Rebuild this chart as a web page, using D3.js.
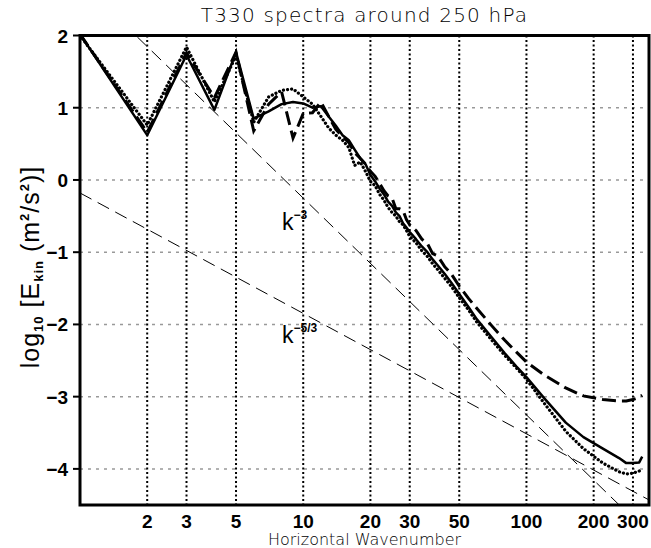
<!DOCTYPE html>
<html>
<head>
<meta charset="utf-8">
<script src="https://cdn.jsdelivr.net/npm/d3@7"></script>
<style>
  body { margin: 0; background: #fff; }
  svg { display: block; }
</style>
</head>
<body>
<div id="chart"></div>
<script>
// T330 kinetic energy spectra around 250 hPa

var waveNumbers = [1,2,3,4,5,6,7,8,9,10,11,12,13,14,15,16,17,18,19,20,
  21,22,23,24,25,26,27,28,29,30,32,34,36,38,40,43,46,50,55,60,
  70,80,90,100,120,150,180,220,260,280,300,320,330];

var solidVals = [2.02,0.62,1.73,0.97,1.77,0.85,0.95,1.05,1.08,1.06,1.0,1.02,0.88,0.75,0.62,0.55,0.42,0.30,0.22,0.07,
  -0.02,-0.12,-0.20,-0.30,-0.36,-0.45,-0.50,-0.60,-0.66,-0.72,-0.82,-0.92,-1.00,-1.10,-1.18,-1.30,-1.42,-1.58,-1.76,-1.93,
  -2.18,-2.40,-2.58,-2.73,-3.02,-3.36,-3.56,-3.72,-3.85,-3.92,-3.92,-3.91,-3.83];

var dottedVals = [2.00,0.76,1.84,1.08,1.72,0.80,1.15,1.24,1.26,1.15,1.05,0.88,0.72,0.62,0.55,0.45,0.20,0.25,0.12,-0.02,
  -0.08,-0.20,-0.28,-0.38,-0.45,-0.50,-0.58,-0.62,-0.70,-0.78,-0.87,-0.98,-1.06,-1.16,-1.24,-1.36,-1.47,-1.63,-1.80,-1.97,
  -2.22,-2.43,-2.60,-2.76,-3.09,-3.48,-3.72,-3.92,-4.04,-4.07,-4.06,-4.03,-4.00];

var dashedVals = [2.02,0.66,1.76,1.14,1.77,0.68,1.05,1.22,0.58,0.92,0.93,1.08,0.88,0.70,0.60,0.52,0.38,0.30,0.22,0.12,
  0.05,-0.05,-0.15,-0.22,-0.25,-0.40,-0.40,-0.42,-0.55,-0.62,-0.70,-0.82,-0.88,-1.02,-1.05,-1.20,-1.30,-1.47,-1.64,-1.78,
  -2.02,-2.22,-2.38,-2.52,-2.70,-2.88,-2.99,-3.04,-3.06,-3.06,-3.04,-3.01,-2.98];

// reference slopes, end points
var refK = [1, 354];
var refSteep = [2.75, -4.90];     // k^-3
var refShallow = [-0.18, -4.43];  // k^-5/3

var xTicks = [2,3,5,10,20,30,50,100,200,300];
var yTicks = [2,1,0,-1,-2,-3,-4];

var W = 651, H = 548;
var pLeft = 80, pRight = 649, pTop = 35.5, pBottom = 505;

var svg = d3.select("#chart").append("svg")
    .attr("width", W)
    .attr("height", H);

var x = d3.scaleLog().domain([1, 354]).range([pLeft, pRight]);
var y = d3.scaleLinear().domain([-4.5, 2]).range([pBottom, pTop]);

svg.append("clipPath").attr("id", "plotclip")
  .append("rect")
    .attr("x", pLeft).attr("y", pTop)
    .attr("width", pRight - pLeft).attr("height", pBottom - pTop);

// grid
svg.append("g").selectAll("line")
    .data(yTicks)
  .enter().append("line")
    .attr("x1", pLeft).attr("x2", pRight)
    .attr("y1", d => y(d)).attr("y2", d => y(d))
    .style("stroke", "#999")
    .style("stroke-width", 1.5)
    .style("stroke-dasharray", "3,5");

svg.append("g").selectAll("line")
    .data(xTicks)
  .enter().append("line")
    .attr("x1", d => x(d)).attr("x2", d => x(d))
    .attr("y1", pTop).attr("y2", pBottom)
    .style("stroke", "#000")
    .style("stroke-width", 2)
    .style("stroke-dasharray", "2,2.5");

var plot = svg.append("g").attr("clip-path", "url(#plotclip)");

// reference lines
[refSteep, refShallow].forEach(function(r){
  plot.append("line")
    .attr("x1", x(refK[0])).attr("y1", y(r[0]))
    .attr("x2", x(refK[1])).attr("y2", y(r[1]))
    .style("stroke", "#000")
    .style("stroke-width", 1)
    .style("stroke-dasharray", "13,7");
});

var line = d3.line()
    .x(d => x(d[0]))
    .y(d => y(d[1]));

function pairs(vals){
  return waveNumbers.map((k, i) => [k, vals[i]]);
}

plot.append("path")
    .attr("d", line(pairs(dashedVals)))
    .style("fill", "none")
    .style("stroke", "#000")
    .style("stroke-width", 3)
    .style("stroke-dasharray", "14,6");

plot.append("path")
    .attr("d", line(pairs(dottedVals)))
    .style("fill", "none")
    .style("stroke", "#000")
    .style("stroke-width", 3.2)
    .style("stroke-linecap", "round")
    .style("stroke-dasharray", "0.1,4");

plot.append("path")
    .attr("d", line(pairs(solidVals)))
    .style("fill", "none")
    .style("stroke", "#000")
    .style("stroke-width", 2.5)
    .style("stroke-linejoin", "round");

// frame
svg.append("rect")
    .attr("x", pLeft).attr("y", pTop)
    .attr("width", pRight - pLeft).attr("height", pBottom - pTop)
    .style("fill", "none")
    .style("stroke", "#000")
    .style("stroke-width", 3);

// y ticks + labels
var yax = svg.append("g");
yax.selectAll("line")
    .data(yTicks)
  .enter().append("line")
    .attr("x1", pLeft - 7).attr("x2", pLeft)
    .attr("y1", d => y(d)).attr("y2", d => y(d))
    .style("stroke", "#000")
    .style("stroke-width", 2);

yax.selectAll("text")
    .data(yTicks)
  .enter().append("text")
    .attr("x", pLeft - 12)
    .attr("y", d => y(d) + 7)
    .attr("text-anchor", "end")
    .style("font-family", "'Liberation Sans', Arial, sans-serif")
    .style("font-weight", "bold")
    .style("font-size", "19px")
    .text(d => d < 0 ? "\u2212" + Math.abs(d) : d);

// x tick labels
svg.append("g").selectAll("text")
    .data(xTicks)
  .enter().append("text")
    .attr("x", d => x(d))
    .attr("y", 528)
    .attr("text-anchor", "middle")
    .style("font-family", "'Liberation Sans', Arial, sans-serif")
    .style("font-weight", "bold")
    .style("font-size", "19px")
    .text(d => d);

// titles
svg.append("text")
    .attr("x", (pLeft + pRight) / 2)
    .attr("y", 22)
    .attr("text-anchor", "middle")
    .style("font-family", "'DejaVu Sans', sans-serif")
    .style("font-weight", 200)
    .style("font-size", "20px")
    .style("letter-spacing", "1.2px")
    .text("T330 spectra around 250 hPa");

svg.append("text")
    .attr("x", (pLeft + pRight) / 2)
    .attr("y", 545)
    .attr("text-anchor", "middle")
    .style("font-family", "'DejaVu Sans', sans-serif")
    .style("font-weight", 200)
    .style("font-size", "16px")
    .text("Horizontal Wavenumber");

// y axis label
var ylab = svg.append("text")
    .attr("transform", "translate(39," + 267 + ") rotate(-90)")
    .attr("text-anchor", "middle")
    .style("font-family", "'Liberation Sans', Arial, sans-serif")
    .style("font-size", "25px")
    .style("letter-spacing", "1px");
ylab.append("tspan").text("log");
ylab.append("tspan").attr("dy", 4).style("font-size", "13px").style("font-weight", "bold").text("10");
ylab.append("tspan").attr("dy", -4).text(" [E");
ylab.append("tspan").attr("dy", 4).style("font-size", "13px").style("font-weight", "bold").text("kin");
ylab.append("tspan").attr("dy", -4).text("  (m");
ylab.append("tspan").attr("dy", -10).style("font-size", "13px").style("font-weight", "bold").text("2");
ylab.append("tspan").attr("dy", 10).text("/s");
ylab.append("tspan").attr("dy", -10).style("font-size", "13px").style("font-weight", "bold").text("2");
ylab.append("tspan").attr("dy", 10).text(")]");

// slope annotations
function slopeLabel(xp, yp, sup){
  var t = svg.append("text")
      .attr("x", xp).attr("y", yp)
      .style("font-family", "'Liberation Sans', Arial, sans-serif")
      .style("font-size", "23px")
      .style("fill", "#000");
  t.append("tspan").text("k");
  t.append("tspan").attr("dy", -11).style("font-size", "12px").style("font-weight", "bold").text(sup);
}
slopeLabel(282, 230, "\u22123");
slopeLabel(282, 343, "\u22125/3");
</script>
</body>
</html>
